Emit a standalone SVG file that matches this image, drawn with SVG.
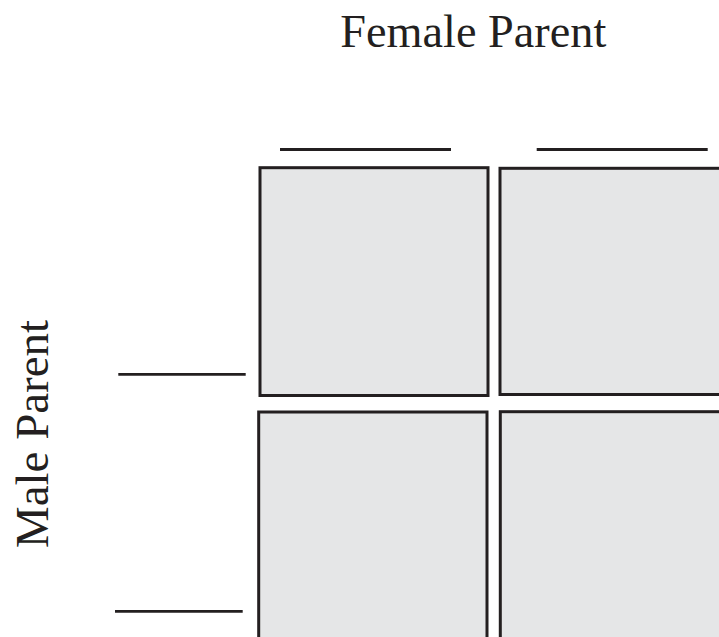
<svg xmlns="http://www.w3.org/2000/svg" width="719" height="637" viewBox="0 0 719 637">
  <style>
    .cell { fill: #e5e6e7; stroke: #231f20; stroke-width: 3; }
    .blank { stroke: #231f20; stroke-width: 2.8; fill: none; }
    .label { font-family: "Liberation Serif", "Times New Roman", serif; font-size: 47px; fill: #231f20; text-anchor: middle; }
  </style>
  <rect width="719" height="637" fill="#ffffff"/>
  <g id="title-female">
    <text class="label" x="473.3" y="46.5" textLength="266" lengthAdjust="spacingAndGlyphs">Female Parent</text>
  </g>
  <g id="title-male">
    <text class="label" transform="translate(48.3,434) rotate(-90)" textLength="228" lengthAdjust="spacingAndGlyphs">Male Parent</text>
  </g>
  <g id="cell-top-left">
    <rect class="cell" x="260" y="167.7" width="228" height="227.8"/>
  </g>
  <g id="cell-top-right">
    <rect class="cell" x="500" y="168.3" width="230" height="226.2"/>
  </g>
  <g id="cell-bottom-left">
    <rect class="cell" x="258.7" y="412" width="228.3" height="240"/>
  </g>
  <g id="cell-bottom-right">
    <rect class="cell" x="500.3" y="411.7" width="230" height="240"/>
  </g>
  <g id="blanks">
    <line class="blank" x1="280" y1="149.5" x2="451" y2="149.5"/>
    <line class="blank" x1="536.7" y1="149.5" x2="707.7" y2="149.5"/>
    <line class="blank" x1="118.3" y1="374.3" x2="245.7" y2="374.3"/>
    <line class="blank" x1="115" y1="611.3" x2="242.7" y2="611.3"/>
  </g>
</svg>
